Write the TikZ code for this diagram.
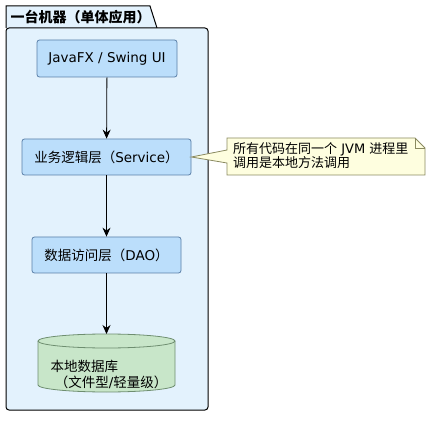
\documentclass[tikz,border=0pt]{standalone}
\usepackage{fontspec}
\setmainfont{DejaVu Sans}
\newfontfamily\cjk{Noto Sans CJK SC}
\newcommand{\cn}[1]{{\cjk #1}}
\usetikzlibrary{arrows.meta}
\definecolor{pkgfill}{HTML}{E3F2FD}
\definecolor{boxfill}{HTML}{BBDEFB}
\definecolor{boxline}{HTML}{5A7FA8}
\definecolor{dbfill}{HTML}{C8E6C9}
\definecolor{dbline}{HTML}{6E8E70}
\definecolor{notefill}{HTML}{FEFEDF}
\definecolor{noteline}{HTML}{8A8A60}
\tikzset{
  layer/.style = {draw=boxline, fill=boxfill, line width=0.8pt, rounded corners=2.5pt, inner sep=0pt,
                  font=\fontsize{13.5}{16}\selectfont},
  flow/.style = {-{Stealth[length=9pt,width=8pt,inset=3pt]}, line width=0.8pt}
}

\begin{document}
\begin{tikzpicture}[x=1pt, y=-1pt]
\useasboundingbox (0,0) rectangle (437,425);
% package
\draw[fill=pkgfill, line width=1pt] (6,28) -- (6,6) -- (150,6) -- (157,28);
\draw[fill=pkgfill, line width=1pt, rounded corners=3pt] (6,28) rectangle (208,410);
\node[anchor=west, font=\fontsize{14}{16}\selectfont\bfseries] (title) at (7,17) {\cn{一台机器（单体应用）}};
% layers
\node[layer, minimum width=140pt, minimum height=37pt] (ui) at (107,58.5) {JavaFX / Swing UI};
\node[layer, minimum width=169pt, minimum height=36pt] (svc) at (106.5,157) {\cn{业务逻辑层（}Service\cn{）}};
\node[layer, minimum width=149pt, minimum height=36pt] (dao) at (106.5,255) {\cn{数据访问层（}DAO\cn{）}};
% database
\coordinate (dbtop) at (106.5,334);
\draw[draw=dbline, fill=dbfill, line width=0.8pt] (38,341) -- (38,385) arc[start angle=180, end angle=0, x radius=68.5, y radius=7]
  -- (175,341) arc[start angle=0, end angle=-180, x radius=68.5, y radius=7] -- cycle;
\draw[draw=dbline, line width=0.8pt] (38,341) arc[start angle=180, end angle=0, x radius=68.5, y radius=7];
\node[anchor=west, align=left, font=\fontsize{13.5}{16}\selectfont] (db) at (47,374) {\cn{本地数据库}\\\ \cn{（文件型}/\cn{轻量级）}};
\draw[flow] (ui) -- (svc);
\draw[flow] (svc) -- (dao);
\draw[flow] (dao) -- (dbtop);
% note
\draw[draw=noteline, fill=notefill, line width=0.8pt] (227,138) -- (415,138) -- (425,148) -- (425,175) -- (227,175)
  -- (227,163) -- (svc.east) -- (227,150) -- cycle;
\draw[draw=noteline, line width=0.8pt] (415,138) -- (415,148) -- (425,148);
\node[anchor=north west, align=left, inner sep=0pt, font=\fontsize{13}{14.5}\selectfont] (note) at (233,142)
  {\cn{所有代码在同一个} JVM \cn{进程里}\\\cn{调用是本地方法调用}};
\end{tikzpicture}
\end{document}
